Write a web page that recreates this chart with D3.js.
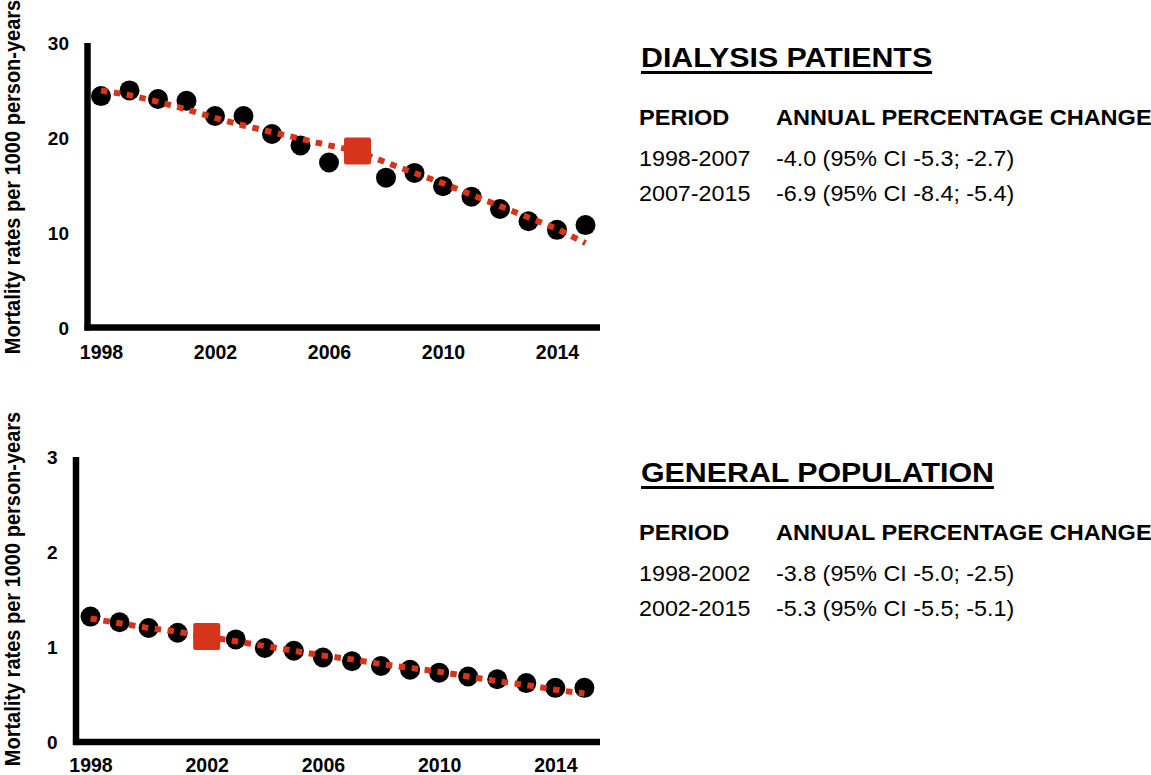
<!DOCTYPE html>
<html>
<head>
<meta charset="utf-8">
<script src="https://cdnjs.cloudflare.com/ajax/libs/d3/7.8.5/d3.min.js"></script>
<style>
	body { margin: 0; background: #fff; }
	svg { display: block; font-family: "Liberation Sans", Arial, sans-serif; }
</style>
</head>
<body>
<svg id="chart" width="1151" height="775"></svg>
<script>

var years = [1998,1999,2000,2001,2002,2003,2004,2005,2006,2007,2008,2009,2010,2011,2012,2013,2014,2015];
var yearTicks = [1998,2002,2006,2010,2014];

// dialysis patients, observed rates and joinpoint fit
var dialysisRates = [24.4,25.0,24.1,23.9,22.3,22.3,20.4,19.2,17.4,18.3,15.8,16.3,14.9,13.8,12.5,11.2,10.3,10.8];
var dialysisFit = [25.0,24.5,23.8,23.0,22.1,21.3,20.6,19.9,19.2,18.6,17.4,16.3,15.2,14.0,12.8,11.6,10.4,8.9];
var dialysisJoin = [2007];
var dialysisTicks = [0,10,20,30];

// general population
var generalRates = [1.32,1.26,1.20,1.15,1.12,1.08,0.99,0.96,0.89,0.85,0.80,0.76,0.73,0.69,0.66,0.62,0.57,0.57];
var generalFit = [1.30,1.25,1.20,1.16,1.11,1.06,1.01,0.96,0.91,0.87,0.82,0.78,0.74,0.69,0.64,0.60,0.55,0.51];
var generalJoin = [2002];
var generalTicks = [0,1,2,3];

var dialysisTitle = "DIALYSIS PATIENTS";
var generalTitle = "GENERAL POPULATION";
var tableHead = ["PERIOD", "ANNUAL PERCENTAGE CHANGE"];
var dialysisPeriods = ["1998-2007", "2007-2015"];
var dialysisApc = ["-4.0 (95% CI -5.3; -2.7)", "-6.9 (95% CI -8.4; -5.4)"];
var generalPeriods = ["1998-2002", "2002-2015"];
var generalApc = ["-3.8 (95% CI -5.0; -2.5)", "-5.3 (95% CI -5.5; -5.1)"];

var yTitle = "Mortality rates per 1000 person-years";
var red = "#d6341b";
var stretch = 1.1;

var svg = d3.select("#chart");

function drawPanel(opt){
	var x = d3.scaleLinear().domain([1998, 2015]).range(opt.xRange);
	var y = d3.scaleLinear().domain([0, opt.ticks[opt.ticks.length-1]]).range(opt.yRange);
	var g = svg.append("g");

	var xAxis = g.append("g")
		.attr("transform", "translate(0," + y(0) + ")")
		.call(d3.axisBottom(x).tickValues(yearTicks).tickSize(0).tickFormat(d3.format("d")));
	xAxis.select(".domain").remove();
	xAxis.selectAll("text")
		.attr("y", opt.xLabelY).attr("dy", 0)
		.style("font-size", "19.5px").style("font-weight", "bold")
		.style("font-family", "Liberation Sans, Arial, sans-serif").attr("fill", "#000");

	var yAxis = g.append("g")
		.attr("transform", "translate(" + opt.axisX + ",0)")
		.call(d3.axisLeft(y).tickValues(opt.ticks).tickSize(0).tickFormat(d3.format("d")));
	yAxis.select(".domain").remove();
	yAxis.selectAll("text")
		.attr("x", -18.5).attr("dy", "0.36em")
		.style("font-size", "19px").style("font-weight", "bold")
		.style("font-family", "Liberation Sans, Arial, sans-serif").attr("fill", "#000");

	// thick axis lines
	g.append("line")
		.attr("x1", opt.axisX).attr("x2", opt.axisX)
		.attr("y1", y.range()[1]).attr("y2", y(0) + 3)
		.attr("stroke", "#000").attr("stroke-width", 6.5);
	g.append("line")
		.attr("x1", opt.axisX - 3).attr("x2", 600)
		.attr("y1", y(0)).attr("y2", y(0))
		.attr("stroke", "#000").attr("stroke-width", 6.5);

	var pts = years.map(function(yr, i){ return {year: yr, rate: opt.rates[i], fit: opt.fit[i]}; });

	g.selectAll(".dot")
		.data(pts.filter(function(d){ return opt.join.indexOf(d.year) < 0; }))
		.enter().append("circle")
		.attr("class", "dot")
		.attr("cx", function(d){ return x(d.year); })
		.attr("cy", function(d){ return y(d.rate); })
		.attr("r", 10)
		.attr("fill", "#000");

	var line = d3.line()
		.x(function(d){ return x(d.year); })
		.y(function(d){ return y(d.fit); });

	g.append("path")
		.datum(pts)
		.attr("d", line)
		.attr("fill", "none")
		.attr("stroke", red)
		.attr("stroke-width", 6)
		.attr("stroke-dasharray", "6.5,6.5");

	g.selectAll(".join")
		.data(pts.filter(function(d){ return opt.join.indexOf(d.year) >= 0; }))
		.enter().append("rect")
		.attr("class", "join")
		.attr("x", function(d){ return x(d.year) - 13.5; })
		.attr("y", function(d){ return y(d.fit) - 13.5; })
		.attr("width", 27).attr("height", 27)
		.attr("rx", 2)
		.attr("fill", red);

	g.append("text")
		.attr("transform", "translate(" + opt.titleX + "," + opt.titleY + ") rotate(-90) scale(1," + stretch + ")")
		.attr("text-anchor", "middle")
		.style("font-size", "20px").style("font-weight", "bold")
		.text(yTitle);
}

function stretchedText(parent, x, y, str, size, bold){
	return parent.append("text")
		.attr("transform", "translate(" + x + "," + y + ") scale(" + stretch + ",1)")
		.style("font-size", size + "px")
		.style("font-weight", bold ? "bold" : "normal")
		.text(str);
}

function drawTable(opt){
	var g = svg.append("g");
	var t = stretchedText(g, 641, opt.top, opt.title, 27.6, true);
	var w = t.node().getComputedTextLength() * stretch;
	g.append("line")
		.attr("x1", 641).attr("x2", 641 + w)
		.attr("y1", opt.top + 5.5).attr("y2", opt.top + 5.5)
		.attr("stroke", "#000").attr("stroke-width", 3);

	stretchedText(g, 639, opt.top + 58, tableHead[0], 21.4, true);
	stretchedText(g, 776, opt.top + 58, tableHead[1], 21.4, true);
	opt.periods.forEach(function(p, i){
		stretchedText(g, 639, opt.top + 99 + i*35, p, 21.2, false);
		stretchedText(g, 776, opt.top + 99 + i*35, opt.apc[i], 21.2, false);
	});
}

drawPanel({
	rates: dialysisRates, fit: dialysisFit, join: dialysisJoin, ticks: dialysisTicks,
	xRange: [101, 585.5], yRange: [327.5, 43], axisX: 87.5, titleX: 20, titleY: 177, xLabelY: 31.5
});
drawPanel({
	rates: generalRates, fit: generalFit, join: generalJoin, ticks: generalTicks,
	xRange: [90.5, 584.4], yRange: [742, 457], axisX: 76, titleX: 20, titleY: 589, xLabelY: 29.5
});

drawTable({title: dialysisTitle, periods: dialysisPeriods, apc: dialysisApc, top: 67});
drawTable({title: generalTitle, periods: generalPeriods, apc: generalApc, top: 482});

</script>
</body>
</html>
